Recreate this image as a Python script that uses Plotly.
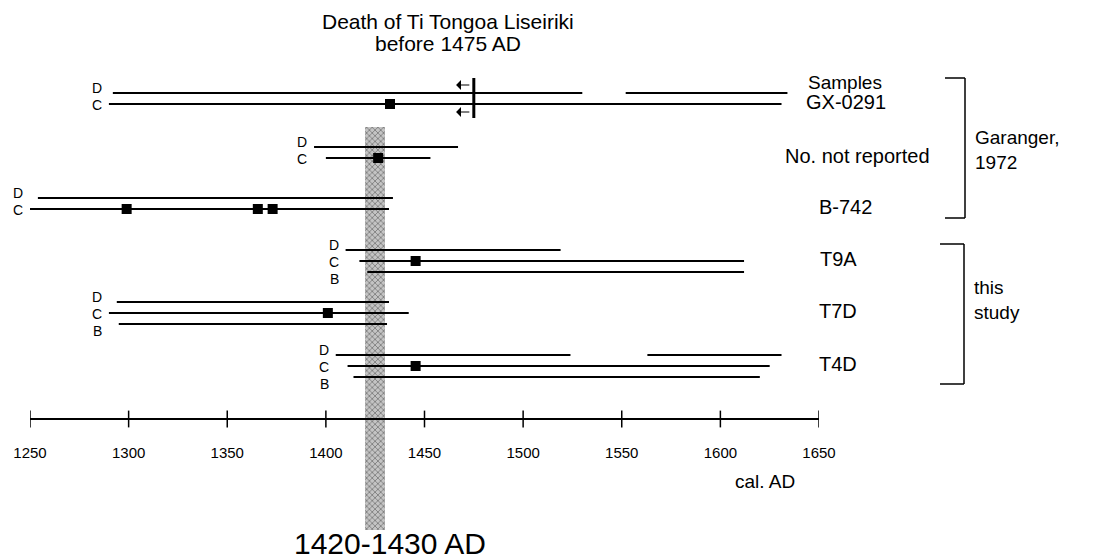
import plotly.graph_objects as go

# ---------------- data (years, cal. AD) ----------------
samples = ["GX-0291", "No. not reported", "B-742", "T9A", "T7D", "T4D"]
letters = [["D", "C"], ["D", "C"], ["D", "C"], ["D", "C", "B"], ["D", "C", "B"], ["D", "C", "B"]]
# segments for each calibrated range line (list of [start, end])
ranges = [
    [[[1292, 1530], [1552, 1634]], [[1290, 1631]]],
    [[[1394, 1467]], [[1400, 1453]]],
    [[[1254, 1434]], [[1250, 1432]]],
    [[[1410, 1519]], [[1417, 1612]], [[1421, 1612]]],
    [[[1294, 1432]], [[1290, 1442]], [[1295, 1431]]],
    [[[1405, 1524], [1563, 1631]], [[1411, 1625]], [[1414, 1620]]],
]
# intercepts (black squares) on line C
intercepts = [[1432.5], [1426.5], [1299, 1365.5, 1373], [1445.5], [1401], [1445.5]]
death_year = 1475
band = [1420, 1430]
tick_years = [1250, 1300, 1350, 1400, 1450, 1500, 1550, 1600, 1650]
tick_labels = [str(t) for t in tick_years]
groups = [("Garanger,<br>1972", 0, 2), ("this<br>study", 3, 5)]

# ---------------- layout constants ----------------
W, H = 1093, 560
X0PX, X1PX = 30, 819
AXIS_Y = 419
group_y = [93, 147, 198, 250, 302, 355]
line_dy = {"D": 0, "C": 11, "B": 22}
letter_dy = {"D": -16, "C": 1, "B": 18}   # letters relative to line C
label_x = [846, 857, 845, 838, 838, 838]
FONT = "Liberation Sans, Arial, Helvetica, sans-serif"


def px_of(year):
    return X0PX + (year - tick_years[0]) * (X1PX - X0PX) / (tick_years[-1] - tick_years[0])


fig = go.Figure()

# shaded band
fig.add_trace(go.Bar(
    x=[(band[0] + band[1]) / 2], y=[530 - 127], base=[127], width=[band[1] - band[0]],
    marker=dict(color="#b0b0b0", line=dict(width=0),
                pattern=dict(shape="x", fgcolor="#3a3a3a", bgcolor="#c4c4c4", size=4, solidity=0.4)),
    hoverinfo="skip", showlegend=False))

annotations = []
for gi, (name, lets) in enumerate(zip(samples, letters)):
    xs, ys = [], []
    for li, let in enumerate(lets):
        yv = group_y[gi] + line_dy[let]
        for s, e in ranges[gi][li]:
            xs += [s, e, None]
            ys += [yv, yv, None]
    fig.add_trace(go.Scatter(x=xs, y=ys, mode="lines", line=dict(color="black", width=1.8),
                             hoverinfo="skip", showlegend=False))
    # intercept squares on line C
    yc = group_y[gi] + line_dy["C"]
    fig.add_trace(go.Scatter(x=intercepts[gi], y=[yc] * len(intercepts[gi]), mode="markers",
                             marker=dict(symbol="square", size=10, color="black"),
                             hoverinfo="skip", showlegend=False))
    # letters
    start = min(seg[0] for line in ranges[gi] for seg in line)
    lx = (px_of(start) - 5) / W
    for let in lets:
        annotations.append(dict(x=lx, xref="paper", y=yc + letter_dy[let], yref="y",
                                text=let, showarrow=False, xanchor="right", yanchor="middle",
                                font=dict(size=14, color="black", family=FONT)))
    # sample label
    annotations.append(dict(x=label_x[gi] / W, xref="paper", y=group_y[gi] + 9, yref="y", text=name,
                            showarrow=False, xanchor="center", yanchor="middle",
                            font=dict(size=20, color="black", family=FONT)))

# death marker
fig.add_trace(go.Scatter(x=[death_year, death_year], y=[78, 118], mode="lines",
                         line=dict(color="black", width=3), hoverinfo="skip", showlegend=False))
for ya in [85, 112]:
    annotations.append(dict(x=death_year - 9, y=ya, xref="x", yref="y", ax=death_year - 1.5, ay=ya,
                            axref="x", ayref="y", showarrow=True, arrowhead=1, arrowsize=1.5,
                            arrowwidth=1.1, arrowcolor="black", text=""))

# axis tick marks crossing the line
fig.add_trace(go.Scatter(x=tick_years, y=[AXIS_Y] * len(tick_years), mode="markers",
                         marker=dict(symbol="line-ns", size=12, line=dict(width=1.5, color="black")),
                         hoverinfo="skip", showlegend=False))

# texts
annotations += [
    dict(x=448 / W, y=21, xref="paper", yref="y", text="Death of Ti Tongoa Liseiriki",
         showarrow=False, xanchor="center", yanchor="middle",
         font=dict(size=21, family=FONT, color="black")),
    dict(x=448 / W, y=43, xref="paper", yref="y", text="before 1475 AD",
         showarrow=False, xanchor="center", yanchor="middle",
         font=dict(size=21, family=FONT, color="black")),
    dict(x=845 / W, y=82, xref="paper", yref="y", text="Samples", showarrow=False,
         xanchor="center", yanchor="middle", font=dict(size=19, family=FONT, color="black")),
    dict(x=765 / W, y=481, xref="paper", yref="y", text="cal. AD", showarrow=False,
         xanchor="center", yanchor="middle", font=dict(size=19, family=FONT, color="black")),
    dict(x=390 / W, y=543, xref="paper", yref="y", text="1420-1430 AD", showarrow=False,
         xanchor="center", yanchor="middle", font=dict(size=30, family=FONT, color="black")),
]

# brackets
shapes = []
brackets = [(945, 965, 78, 218, 150), (940, 964, 244, 384, 300)]
for (label, g0, g1), (xa, xb, yt, yb, ym) in zip(groups, brackets):
    for (x_0, y_0, x_1, y_1) in [(xa, yt, xb, yt), (xb, yt, xb, yb), (xa, yb, xb, yb)]:
        shapes.append(dict(type="line", xref="paper", yref="y", x0=x_0 / W, x1=x_1 / W, y0=y_0, y1=y_1,
                           line=dict(color="black", width=1.5)))
    annotations.append(dict(x=(xb + 8) / W, y=ym, xref="paper", yref="y", text=label,
                            showarrow=False, xanchor="left", yanchor="middle", align="left",
                            font=dict(size=19, family=FONT, color="black")))

fig.update_layout(
    width=W, height=H, margin=dict(l=0, r=0, t=0, b=0, autoexpand=False),
    paper_bgcolor="white", plot_bgcolor="white",
    annotations=annotations, shapes=shapes, bargap=0,
    xaxis=dict(domain=[X0PX / W, X1PX / W], range=[tick_years[0], tick_years[-1]],
               anchor="free", position=1 - AXIS_Y / H, showline=True, linecolor="black", linewidth=1.5,
               showgrid=False, zeroline=False, ticks="", tickvals=tick_years, ticktext=tick_labels,
               tickfont=dict(size=15, family=FONT, color="black"),
               ticklabelstandoff=20, automargin=False),
    yaxis=dict(domain=[0, 1], range=[H, 0], visible=False, showgrid=False, zeroline=False,
               automargin=False),
)
fig.write_html("out.html", config={"displayModeBar": False},
               post_script="document.body.style.margin='0';document.body.style.overflow='hidden';")
